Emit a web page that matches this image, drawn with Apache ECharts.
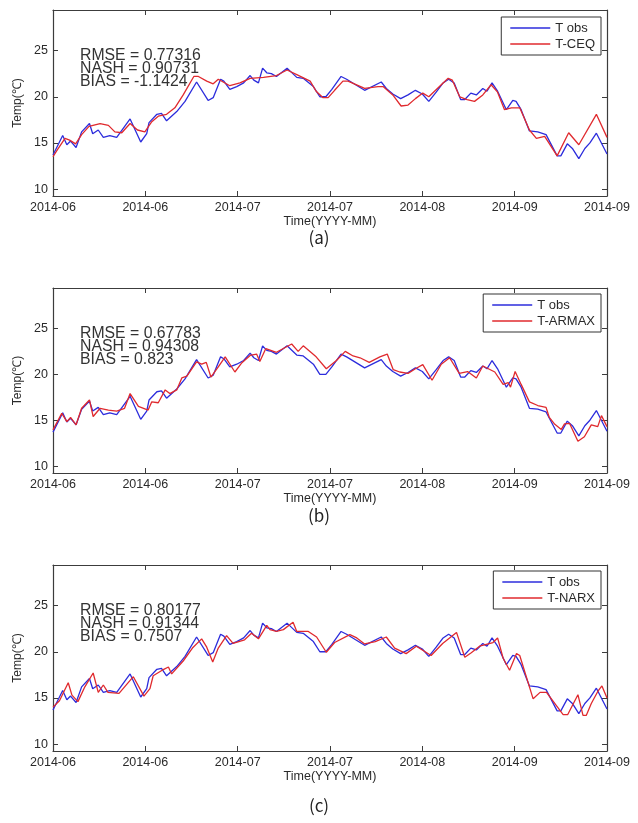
<!DOCTYPE html>
<html>
<head>
<meta charset="utf-8">
<script src="https://cdn.jsdelivr.net/npm/echarts@6/dist/echarts.min.js"></script>
<style>
html,body{margin:0;padding:0;background:#fff;}
#chart{width:638px;height:823px;}
</style>
</head>
<body>
<div id="chart"></div>
<script>
// ---- data: [day since 2014-06-01, temperature] ----
const xTickLabels = ['2014-06','2014-06','2014-07','2014-07','2014-08','2014-09','2014-09'];
const yTickValues = [10, 15, 20, 25];

const tObs = [[0,13.7],[2.1,15.8],[3,14.8],[3.8,15.2],[5,14.5],[6.2,16.2],[7.9,17.1],[8.6,16.0],[9.8,16.4],[10.9,15.6],[12.3,15.8],[13.8,15.6],[16.7,17.6],[19,15.1],[20.3,16.0],[20.8,17.2],[22.5,18.1],[23.5,18.2],[24.6,17.4],[26.8,18.4],[28.6,19.5],[31.1,21.6],[33.6,19.6],[34.7,19.9],[36.3,21.9],[37,21.7],[38.3,20.8],[39.8,21.1],[41.3,21.5],[42.7,22.3],[43.5,21.8],[44.5,21.5],[45.4,23.1],[46.3,22.6],[47.3,22.5],[48.4,22.2],[50.7,23.1],[52.8,22.1],[54.2,22.0],[56.4,21.1],[57.8,20.0],[59.1,20.0],[60.4,20.8],[62.4,22.2],[63.6,21.9],[67.5,20.7],[71.1,21.6],[72.2,20.9],[73.6,20.3],[75.3,19.8],[76.9,20.2],[78.5,20.7],[80,20.3],[81.4,19.5],[83,20.5],[84.5,21.5],[85.7,21.9],[86.9,21.5],[88.3,19.7],[89.2,19.7],[90.5,20.4],[91.7,20.2],[93.1,20.9],[94,20.6],[95.1,21.5],[96.3,20.6],[98.2,18.6],[99.6,19.6],[100.3,19.5],[101.4,18.6],[103.2,16.3],[105,16.2],[106.8,15.9],[109.2,13.6],[110,13.6],[111.4,14.9],[112.5,14.4],[113.9,13.3],[115.2,14.4],[116.3,15.0],[117.7,16.05],[120,13.8]];

const tCEQ = [[0,13.5],[1,14.3],[2.6,15.5],[3.6,15.3],[4.9,14.9],[6.2,15.9],[7.8,16.8],[10.2,17.1],[12,16.9],[13.4,16.2],[14.9,16.1],[16.7,17.1],[18.3,16.4],[19.9,16.2],[21.4,17.3],[22.8,17.9],[24.6,18.1],[26.4,18.8],[28.2,20.2],[30.5,22.2],[31.5,22.2],[33.3,21.7],[34.7,21.4],[35.8,21.9],[38.3,21.2],[40.5,21.5],[42.7,22.0],[45.6,22.1],[48.4,22.3],[50.7,22.9],[52.8,22.4],[55.7,21.7],[57,20.6],[58.5,19.9],[59.6,19.9],[61,20.7],[62.8,21.7],[63.9,21.7],[67.5,20.9],[70.4,21.1],[71.5,21.1],[73.6,20.2],[75.4,19.0],[76.9,19.1],[78.5,19.8],[80.1,20.4],[81.4,20.0],[84.1,21.3],[85.6,22.0],[86.5,21.8],[88.1,20.0],[89.7,19.7],[91.3,19.5],[93.1,20.2],[94.9,21.3],[96.3,20.5],[97.8,18.6],[99.3,18.8],[101.1,18.8],[103.2,16.4],[104.7,15.5],[106.5,15.7],[109.2,13.6],[111.7,16.1],[113.9,14.8],[117.7,18.1],[120,15.6]];

const tARMAX = [[0,13.95],[1.9,15.75],[3,14.85],[3.8,15.3],[5,14.5],[6.2,16.3],[7.9,17.2],[8.7,15.4],[10.2,16.3],[12,16.1],[13.8,16.0],[15.5,16.3],[16.7,17.9],[18.5,16.5],[20.6,16.1],[21.4,17.0],[22.8,16.9],[24.3,18.3],[25.3,17.9],[26.8,18.3],[27.9,19.6],[29,19.8],[31.1,21.35],[32.2,21.1],[33.2,21.3],[34.2,19.7],[35.8,20.8],[37.3,21.9],[39.4,20.25],[40.8,21.2],[42.7,22.05],[44.1,22.2],[44.8,21.4],[46.1,22.8],[48.4,22.4],[51.7,23.3],[53.1,22.5],[54.2,23.1],[57,21.9],[59.2,20.6],[61.4,21.5],[63.3,22.5],[65,22.0],[66.5,21.8],[68.5,21.3],[70.8,21.9],[72.4,22.2],[73.7,20.5],[75.1,20.25],[76.9,20.1],[78.5,20.6],[80.1,21.05],[82.1,19.35],[84.1,21.1],[85.9,21.8],[88,20.1],[89.8,20.3],[91.7,19.6],[93.1,20.9],[95.7,20.25],[97.5,18.9],[98.6,19.1],[99.1,18.6],[100.1,20.3],[101.4,18.9],[103.2,17.0],[105,16.6],[106.8,16.4],[107.5,15.3],[108.7,14.55],[110.1,14.0],[110.8,14.6],[111.9,14.65],[113.7,12.7],[115.1,13.2],[116.6,14.5],[118,14.3],[118.8,15.5],[120,14.3]];

const tNARX = [[0,14.0],[1.4,14.7],[3.3,16.65],[4.1,15.3],[5.4,14.6],[5.8,14.4],[6.9,16.2],[8.7,17.7],[9.8,15.6],[10.9,16.4],[11.9,15.6],[14.3,15.5],[17.4,17.3],[19.7,15.2],[21,16.0],[21.7,17.4],[24,18.1],[25,18.35],[25.7,17.6],[28.2,19.0],[30.2,20.4],[32.2,21.4],[33.3,20.5],[34.6,18.9],[35.8,20.4],[37.6,21.75],[39,20.9],[41.5,21.3],[43,22.0],[44.5,21.4],[46.3,22.85],[47,22.4],[48.4,22.2],[49.9,22.4],[52,23.2],[52.8,22.2],[55.3,22.2],[57.1,21.6],[59.2,19.95],[61,21.0],[64.3,21.85],[65.8,21.5],[67.5,20.85],[69.8,21.1],[72.2,21.6],[74,20.4],[76.5,19.8],[78.7,20.6],[81.9,19.6],[84.4,20.9],[87.4,22.1],[89.2,19.4],[90.6,19.9],[92.4,20.6],[95.3,21.0],[96.3,21.5],[97.5,19.3],[98.9,18.0],[100.4,19.8],[101.1,19.6],[104,14.9],[105.5,15.6],[106.9,15.6],[110.5,13.2],[111.5,13.2],[113.7,15.35],[114.8,13.1],[115.5,13.1],[116.6,14.4],[118,15.7],[118.9,16.3],[120,15.0]];

const modelNames = ['T-CEQ', 'T-ARMAX', 'T-NARX'];
const modelSeries = [tCEQ, tARMAX, tNARX];
const statsRMSE = ['0.77316', '0.67783', '0.80177'];
const statsNASH = ['0.90731', '0.94308', '0.91344'];
const statsBIAS = ['-1.1424', '0.823', '0.7507'];
const captions = ['(a)', '(b)', '(c)'];

// ---- layout ----
const panelTop = [10, 288, 565];
const panelHeight = [186, 185, 186];
const captionY = [238, 516, 806];
const legendTop = [17, 294, 571];
const axisColor = '#3c3c3c';
const textColor = '#2a2a2a';
const FONT = '"Liberation Sans", Arial, sans-serif';

const chart = echarts.init(document.getElementById('chart'), null, {renderer: 'canvas'});

const grid = [], xAxis = [], yAxis = [], series = [], legend = [], graphic = [];
for (let i = 0; i < 3; i++) {
  grid.push({left: 53, right: 31, top: panelTop[i], height: panelHeight[i], containLabel: false});
  const tick = {show: true, inside: true, length: 5, lineStyle: {color: axisColor, width: 1}};
  const line = {show: true, onZero: false, lineStyle: {color: axisColor, width: 1.2}};
  xAxis.push({
    gridIndex: i, type: 'value', position: 'bottom', min: 0, max: 120, interval: 20,
    axisLine: line, axisTick: tick, splitLine: {show: false},
    axisLabel: {color: textColor, fontSize: 12.5, fontFamily: FONT, margin: 5,
      formatter: v => xTickLabels[Math.round(v / 20)]},
    name: 'Time(YYYY-MM)', nameLocation: 'middle', nameGap: 17,
    nameTextStyle: {color: textColor, fontSize: 12.5, fontFamily: FONT}
  });
  xAxis.push({
    gridIndex: i, type: 'value', position: 'top', min: 0, max: 120, interval: 20,
    axisLine: line, axisTick: tick, splitLine: {show: false}, axisLabel: {show: false}
  });
  yAxis.push({
    gridIndex: i, type: 'value', position: 'left', min: 9.25, max: 29.4,
    axisLine: line, axisTick: Object.assign({}, tick, {customValues: yTickValues}),
    splitLine: {show: false},
    axisLabel: {customValues: yTickValues, color: textColor, fontSize: 12.5, fontFamily: FONT, margin: 5},
    name: 'Temp(℃)', nameLocation: 'middle', nameGap: 27, nameRotate: 90,
    nameTextStyle: {color: textColor, fontSize: 12, fontFamily: FONT}
  });
  yAxis.push({
    gridIndex: i, type: 'value', position: 'right', min: 9.25, max: 29.4,
    axisLine: line, axisTick: Object.assign({}, tick, {customValues: yTickValues}),
    splitLine: {show: false}, axisLabel: {show: false}
  });
  series.push({
    name: 'T obs', type: 'line', xAxisIndex: 2 * i, yAxisIndex: 2 * i,
    data: tObs, symbol: 'none', lineStyle: {color: '#2c2cdc', width: 1.3}, itemStyle: {color: '#2c2cdc'},
    animation: false, z: 2
  });
  series.push({
    name: modelNames[i], type: 'line', xAxisIndex: 2 * i, yAxisIndex: 2 * i,
    data: modelSeries[i], symbol: 'none', lineStyle: {color: '#e02a2e', width: 1.3}, itemStyle: {color: '#e02a2e'},
    animation: false, z: 3
  });
  legend.push({
    data: ['T obs', modelNames[i]], orient: 'vertical', right: 37, top: legendTop[i],
    icon: 'rect', itemWidth: 40, itemHeight: 1.5, itemGap: 2,
    padding: [4, 6, 4, 9], borderColor: '#333', borderWidth: 1, backgroundColor: '#fff',
    textStyle: {color: textColor, fontSize: 13, fontFamily: FONT, lineHeight: 14},
    selectedMode: false
  });
  graphic.push({
    type: 'text', left: 80, top: panelTop[i] + 38,
    style: {
      text: 'RMSE = ' + statsRMSE[i] + '\nNASH = ' + statsNASH[i] + '\nBIAS = ' + statsBIAS[i],
      font: '15.8px ' + FONT, lineHeight: 12.8, fill: '#333'
    }
  });
  graphic.push({
    type: 'text', x: 319, y: captionY[i],
    style: {text: captions[i], font: '17px "Noto Sans CJK KR", "Noto Sans", sans-serif', fill: '#222',
      align: 'center', verticalAlign: 'middle'}
  });
}

chart.setOption({
  backgroundColor: '#fff',
  animation: false,
  grid, xAxis, yAxis, series, legend, graphic
});
</script>
</body>
</html>
